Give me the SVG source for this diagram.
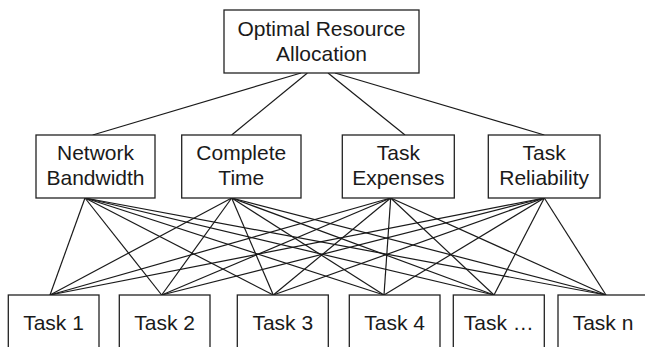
<svg xmlns="http://www.w3.org/2000/svg" width="645" height="347" viewBox="0 0 645 347">
  <style>
    .box { fill: #ffffff; stroke: #222222; stroke-width: 1.3; }
    .lbl { font-family: "Liberation Sans", Arial, sans-serif; font-size: 21px; fill: #1a1a1a; text-anchor: middle; }
    .edge { stroke: #1a1a1a; stroke-width: 1.2; fill: none; }
  </style>
  <rect width="645" height="347" fill="#ffffff"/>

  <!-- connectors -->
  <g id="connectors" class="edge">
    <!-- goal to criteria -->
    <line x1="301" y1="73" x2="92.7" y2="135"/>
    <line x1="307.4" y1="73" x2="231.7" y2="135"/>
    <line x1="328" y1="73" x2="405" y2="135"/>
    <line x1="335" y1="73" x2="544.3" y2="135"/>
    <!-- Network Bandwidth to tasks -->
    <line x1="85" y1="198" x2="50" y2="295"/>
    <line x1="85" y1="198" x2="161.7" y2="295"/>
    <line x1="85" y1="198" x2="273.3" y2="295"/>
    <line x1="85" y1="198" x2="384" y2="295"/>
    <line x1="85" y1="198" x2="494" y2="295"/>
    <line x1="85" y1="198" x2="606" y2="295"/>
    <!-- Complete Time to tasks -->
    <line x1="231.7" y1="198" x2="50" y2="295"/>
    <line x1="231.7" y1="198" x2="161.7" y2="295"/>
    <line x1="231.7" y1="198" x2="273.3" y2="295"/>
    <line x1="231.7" y1="198" x2="384" y2="295"/>
    <line x1="231.7" y1="198" x2="494" y2="295"/>
    <line x1="231.7" y1="198" x2="606" y2="295"/>
    <!-- Task Expenses to tasks -->
    <line x1="390.7" y1="198" x2="50" y2="295"/>
    <line x1="390.7" y1="198" x2="161.7" y2="295"/>
    <line x1="390.7" y1="198" x2="273.3" y2="295"/>
    <line x1="390.7" y1="198" x2="384" y2="295"/>
    <line x1="390.7" y1="198" x2="494" y2="295"/>
    <line x1="390.7" y1="198" x2="606" y2="295"/>
    <!-- Task Reliability to tasks -->
    <line x1="544.3" y1="198" x2="50" y2="295"/>
    <line x1="544.3" y1="198" x2="161.7" y2="295"/>
    <line x1="544.3" y1="198" x2="273.3" y2="295"/>
    <line x1="544.3" y1="198" x2="384" y2="295"/>
    <line x1="544.3" y1="198" x2="494" y2="295"/>
    <line x1="544.3" y1="198" x2="606" y2="295"/>
  </g>

  <!-- goal -->
  <g id="goal">
    <rect class="box" x="224" y="10" width="195" height="63"/>
    <text class="lbl" x="321.5" y="35.7">Optimal Resource</text>
    <text class="lbl" x="321.5" y="61">Allocation</text>
  </g>

  <!-- criteria -->
  <g id="network-bandwidth">
    <rect class="box" x="36" y="135" width="119" height="63"/>
    <text class="lbl" x="95.5" y="160">Network</text>
    <text class="lbl" x="95.5" y="185">Bandwidth</text>
  </g>
  <g id="complete-time">
    <rect class="box" x="181.7" y="135" width="119.3" height="63"/>
    <text class="lbl" x="241.3" y="160">Complete</text>
    <text class="lbl" x="241.3" y="185">Time</text>
  </g>
  <g id="task-expenses">
    <rect class="box" x="342.3" y="135" width="112" height="63"/>
    <text class="lbl" x="398.3" y="160">Task</text>
    <text class="lbl" x="398.3" y="185">Expenses</text>
  </g>
  <g id="task-reliability">
    <rect class="box" x="488.3" y="135" width="111.7" height="63"/>
    <text class="lbl" x="544.2" y="160">Task</text>
    <text class="lbl" x="544.2" y="185">Reliability</text>
  </g>

  <!-- tasks -->
  <g id="task-1">
    <rect class="box" x="8.3" y="295" width="90.7" height="70"/>
    <text class="lbl" x="53.5" y="330">Task 1</text>
  </g>
  <g id="task-2">
    <rect class="box" x="119.3" y="295" width="90.7" height="70"/>
    <text class="lbl" x="164.6" y="330">Task 2</text>
  </g>
  <g id="task-3">
    <rect class="box" x="237.3" y="295" width="91" height="70"/>
    <text class="lbl" x="282.8" y="330">Task 3</text>
  </g>
  <g id="task-4">
    <rect class="box" x="349.3" y="295" width="90.7" height="70"/>
    <text class="lbl" x="394.6" y="330">Task 4</text>
  </g>
  <g id="task-etc">
    <rect class="box" x="453.3" y="295" width="91" height="70"/>
    <text class="lbl" x="498.8" y="330">Task …</text>
  </g>
  <g id="task-n">
    <rect class="box" x="558" y="295" width="91" height="70"/>
    <text class="lbl" x="603" y="330">Task n</text>
  </g>
</svg>
